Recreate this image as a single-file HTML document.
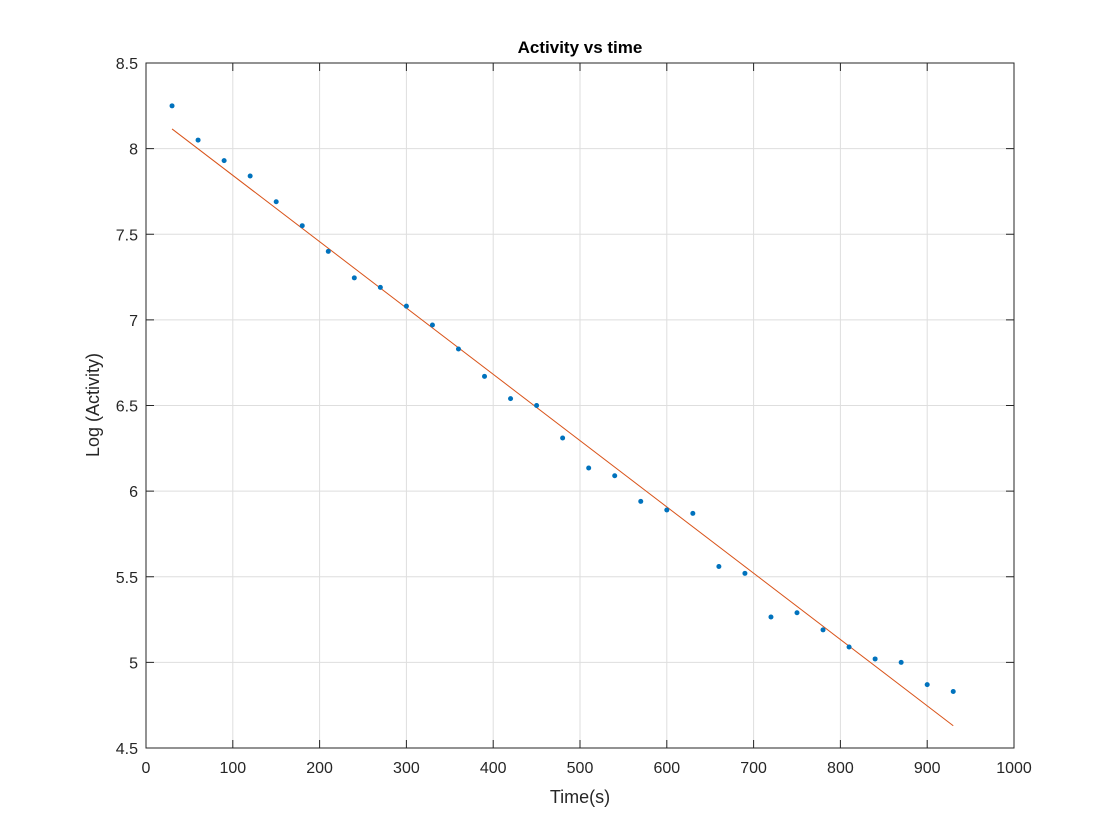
<!DOCTYPE html>
<html><head><meta charset="utf-8"><style>
body{margin:0;background:#fff;}
svg{display:block;font-family:"Liberation Sans",sans-serif;}
</style></head><body>
<svg id="chart" width="1120" height="840" viewBox="0 0 1120 840">
<rect x="0" y="0" width="1120" height="840" fill="#fff"/>
<g id="grid"></g>
<g id="ticks"></g>
<g id="fit"></g>
<g id="pts"></g>
<rect x="146" y="63" width="868" height="685" fill="none" stroke="#262626" stroke-width="1"/>
<text x="580" y="53" text-anchor="middle" font-size="17" font-weight="bold" fill="#000">Activity vs time</text>
<text x="580" y="803" text-anchor="middle" font-size="18" fill="#262626">Time(s)</text>
<text transform="translate(99,405) rotate(-90)" text-anchor="middle" font-size="18" fill="#262626">Log (Activity)</text>
</svg>
<script>
const times=[30,60,90,120,150,180,210,240,270,300,330,360,390,420,450,480,510,540,570,600,630,660,690,720,750,780,810,840,870,900,930];
const logActivity=[8.25,8.05,7.93,7.84,7.69,7.55,7.40,7.245,7.19,7.08,6.97,6.83,6.67,6.54,6.50,6.31,6.135,6.09,5.94,5.89,5.87,5.56,5.52,5.265,5.29,5.19,5.09,5.02,5.00,4.87,4.83];
const fitX=[30,930];
const fitY=[8.115,4.63];
const xTicks=[0,100,200,300,400,500,600,700,800,900,1000];
const yTicks=[4.5,5,5.5,6,6.5,7,7.5,8,8.5];
const yTickLabels=["4.5","5","5.5","6","6.5","7","7.5","8","8.5"];
const L=146,R=1014,T=63,B=748;
const xs=v=>L+(v-0)/1000*(R-L);
const ys=v=>B-(v-4.5)/4*(B-T);
const NS="http://www.w3.org/2000/svg";
function mk(tag,attrs,parent){const e=document.createElementNS(NS,tag);for(const k in attrs)e.setAttribute(k,attrs[k]);parent.appendChild(e);return e;}
const grid=document.getElementById('grid'),ticks=document.getElementById('ticks');
xTicks.forEach(t=>{
 const x=xs(t);
 const g=mk('line',{x1:x,x2:x,y1:T,y2:B,stroke:'#dedede','stroke-width':1},grid);
 
 
 const tk=mk('line',{x1:x,x2:x,y1:B,y2:B-8,stroke:'#262626'},ticks);
 
 
 const tk2=mk('line',{x1:x,x2:x,y1:T,y2:T+8,stroke:'#262626'},ticks);
 
 
 const lb=mk('text',{x:x,y:B+25,'text-anchor':'middle','font-size':16,fill:'#262626'},ticks);
 lb.textContent=t;
 
 
});
yTicks.forEach((t,i)=>{
 const y=ys(t);
 const g=mk('line',{x1:L,x2:R,y1:y,y2:y,stroke:'#dedede','stroke-width':1},grid);
 
 
 const tk=mk('line',{x1:L,x2:L+8,y1:y,y2:y,stroke:'#262626'},ticks);
 
 
 const tk2=mk('line',{x1:R,x2:R-8,y1:y,y2:y,stroke:'#262626'},ticks);
 
 
 const lb=mk('text',{x:L-8,y:y+6,'text-anchor':'end','font-size':16,fill:'#262626'},ticks);
 lb.textContent=yTickLabels[i];
 
 
});
const fl=mk('line',{x1:xs(fitX[0]),y1:ys(fitY[0]),x2:xs(fitX[1]),y2:ys(fitY[1]),stroke:'#d95319','stroke-width':1},document.getElementById('fit'));


const pts=document.getElementById('pts');
times.forEach((t,i)=>{
 const c=mk('circle',{cx:xs(t),cy:ys(logActivity[i]),r:2.5,fill:'#0072bd'},pts);
 
 
});
</script>
</body></html>
